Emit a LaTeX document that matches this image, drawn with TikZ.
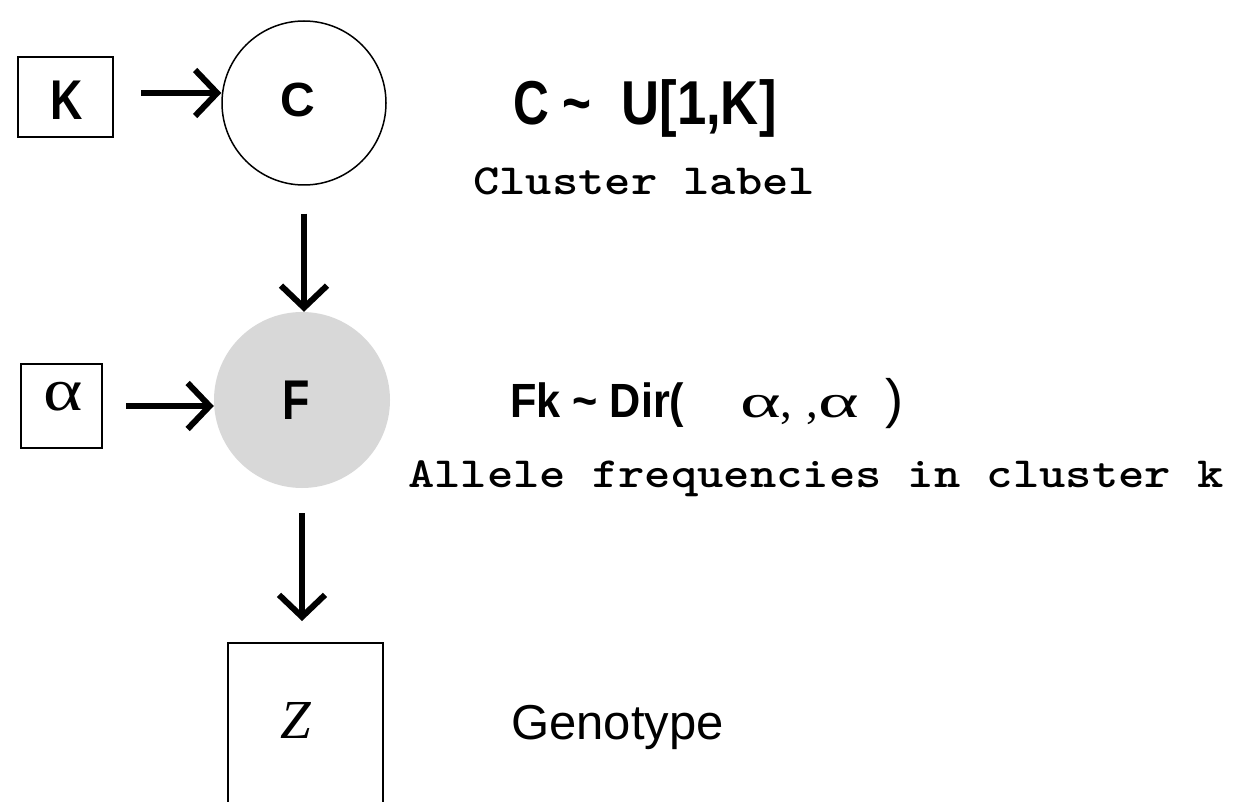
\documentclass[tikz,border=0pt]{standalone}
\usepackage{fontspec}
\usepackage{graphicx}
\setmainfont{Liberation Sans}
\newfontfamily\narrowsans[FakeStretch=0.8]{Liberation Sans}
\newfontfamily\cusans[FakeStretch=0.85]{Liberation Sans}
\newfontfamily\midsans[FakeStretch=0.9]{Liberation Sans}
\newfontfamily\greekfont{Liberation Serif}
\usetikzlibrary{arrows.meta}
\tikzset{
  varbox/.style={draw, line width=2pt, inner sep=0pt},
  arr/.style={line width=6pt, -{Straight Barb[length=22pt,width=46pt]}},
  bigsans/.style={font=\narrowsans\bfseries\fontsize{56}{60}\selectfont},
  monolab/.style={anchor=base west, inner sep=0pt},
}
\begin{document}
\begin{tikzpicture}[x=1pt,y=-1pt]
\useasboundingbox (0,0) rectangle (1238,802);
\clip (0,0) rectangle (1238,802);
% nodes
\node[varbox, minimum width=95pt, minimum height=80pt] (K) at (65.5,97) {};
\node[bigsans] (Kt) at (67,100) {K};
\node[draw, circle, line width=1.5pt, minimum size=164pt, inner sep=0pt] (C) at (304,103) {};
\node[font=\bfseries\fontsize{48}{50}\selectfont] (Ct) at (298,100) {C};
\node[varbox, minimum width=81pt, minimum height=84pt] (A) at (61.5,406) {};
\node[font=\greekfont\fontsize{60}{62}\selectfont] (At) at (63,397) {\scalebox{1.25}[1]{α}};
\node[circle, fill={rgb,255:red,216;green,216;blue,216}, minimum size=176pt, inner sep=0pt] (F) at (302,400) {};
\node[bigsans] (Ft) at (296,400) {F};
\node[varbox, minimum width=155pt, minimum height=220pt] (Z) at (305.5,753) {};
\node[font=\greekfont\itshape\fontsize{55}{60}\selectfont, anchor=base, inner sep=0pt] (Zt) at (296,738) {Z};
% connectors
\draw[arr, shorten <=27pt] ([yshift=4pt]K.east) -- ([yshift=4pt]K.east -| C.west);
\draw[arr, shorten <=28pt] (C.south) -- (C.south |- F.north);
\draw[arr, shorten <=23pt] (A.east) -- (A.east -| F.west);
\draw[arr, shorten <=25pt, shorten >=21pt] (F.south) -- (F.south |- Z.north);
% texts
\node[anchor=base west, inner sep=0pt] (Cdist) at (513,125) {{\narrowsans\bfseries\fontsize{62}{66}\selectfont C \textasciitilde}\hspace{15pt}{\cusans\bfseries\fontsize{62}{66}\selectfont\ U[1,K]}};
\node[monolab] (Clab) at (473,195) {\scalebox{1.165}[1]{\ttfamily\bfseries\fontsize{43}{46}\selectfont Cluster label}};
\node[anchor=base west, inner sep=0pt] (Fdist) at (510,417) {{\midsans\bfseries\fontsize{48}{52}\selectfont Fk \textasciitilde{} Dir(}\hspace{56pt}{\greekfont\fontsize{47}{50}\selectfont\scalebox{1.65}[1]{α},\hspace{14pt},\scalebox{1.65}[1]{α}}\hspace{26pt}{\fontsize{54}{56}\selectfont )}};
\node[monolab] (Flab) at (408,487) {\scalebox{1.165}[1]{\ttfamily\bfseries\fontsize{43}{46}\selectfont Allele frequencies in cluster k}};
\node[font=\fontsize{49}{52}\selectfont, anchor=base west, inner sep=0pt] (Zlab) at (511,739) {Genotype};
\end{tikzpicture}
\end{document}
